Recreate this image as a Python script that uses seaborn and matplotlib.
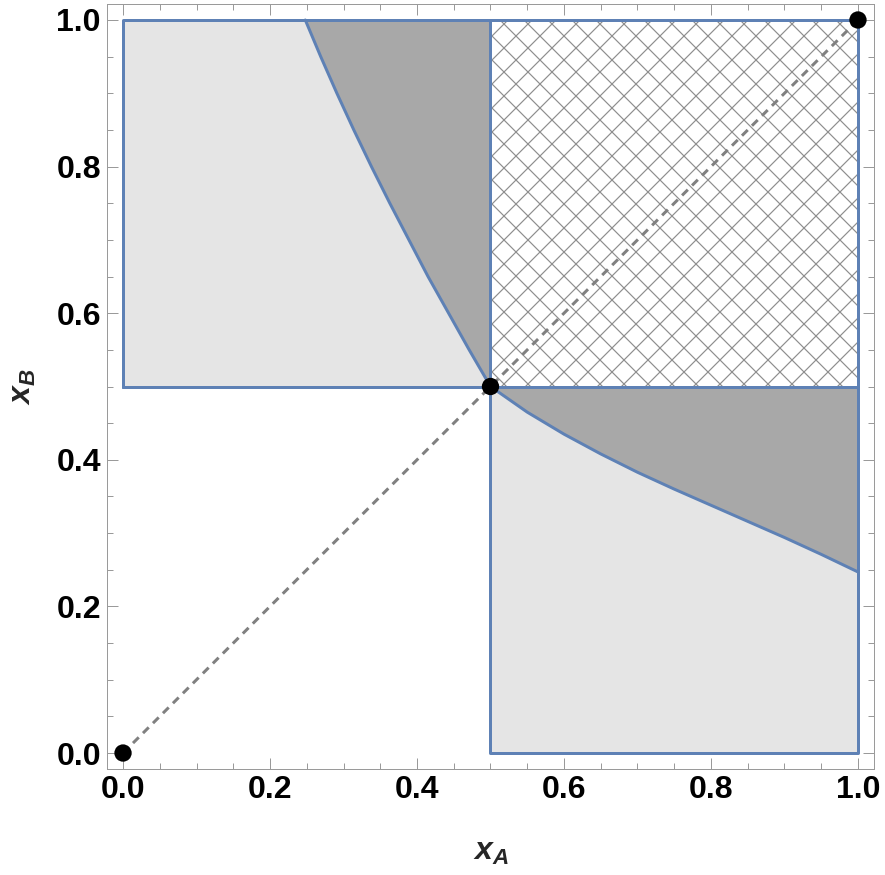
import numpy as np
import pandas as pd
import matplotlib.pyplot as plt
from matplotlib.patches import Rectangle
import seaborn as sns

# threshold splitting the unit square
half = 0.5
# boundary curves (xA, xB)
upper_xA = [0.248, 0.269, 0.291, 0.314, 0.338, 0.363, 0.389, 0.415, 0.443, 0.471, 0.500]
upper_xB = [1.000, 0.950, 0.900, 0.850, 0.800, 0.750, 0.700, 0.650, 0.600, 0.550, 0.500]
lower_xA = [0.500, 0.550, 0.600, 0.650, 0.700, 0.750, 0.800, 0.850, 0.900, 0.950, 1.000]
lower_xB = [0.500, 0.465, 0.435, 0.408, 0.383, 0.360, 0.338, 0.316, 0.294, 0.271, 0.247]
# equilibrium points on the diagonal
eq_points = [0.0, 0.5, 1.0]
ticks = [0.0, 0.2, 0.4, 0.6, 0.8, 1.0]
tick_labels = ["0.0", "0.2", "0.4", "0.6", "0.8", "1.0"]

blue = "#5E81B5"
light = "#E5E5E5"
dark = "#A8A8A8"
frame = "#9A9A9A"

sns.set_style("ticks")
plt.rcParams['font.family'] = ['Liberation Sans', 'DejaVu Sans']
plt.rcParams['font.weight'] = 'bold'
plt.rcParams['mathtext.fontset'] = 'custom'
plt.rcParams['mathtext.it'] = 'Liberation Sans:italic:bold'
plt.rcParams['mathtext.rm'] = 'Liberation Sans:bold'
plt.rcParams['hatch.linewidth'] = 1.2

fig = plt.figure(figsize=(885 / 72, 875 / 72), dpi=72)
ax = fig.add_axes([107 / 885, 106 / 875, 767 / 885, 765 / 875])

# light regions
ax.fill_between([0, half], half, 1, color=light, lw=0, zorder=1)
ax.fill_between([half, 1], 0, half, color=light, lw=0, zorder=1)

# dark regions above the boundary curves
ax.fill_between(upper_xA, upper_xB, 1, color=dark, lw=0, zorder=2)
ax.fill_between(lower_xA, lower_xB, half, color=dark, lw=0, zorder=2)

# hatched square
ax.add_patch(Rectangle((half, half), 1 - half, 1 - half, facecolor="white",
                       edgecolor="#8E8E8E", lw=0, hatch="x", zorder=2))

# outlines
ax.plot([0, 0, half, half, 0], [half, 1, 1, half, half], color=blue, lw=3, zorder=4)
ax.plot([half, half, 1, 1, half], [half, 0, 0, half, half], color=blue, lw=3, zorder=4)
ax.plot([half, 1, 1], [1, 1, half], color=blue, lw=3, zorder=4)
curve = pd.DataFrame({"xA": upper_xA + lower_xA, "xB": upper_xB + lower_xB})
sns.lineplot(data=curve, x="xA", y="xB", sort=False, estimator=None, color=blue,
             lw=3, ax=ax, zorder=4)

# diagonal
diag = pd.DataFrame({"xA": [0, 1], "xB": [0, 1]})
sns.lineplot(data=diag, x="xA", y="xB", color="#808080", lw=3, ax=ax, zorder=5)
ax.lines[-1].set_dashes((2.7, 2))

# equilibrium points
pts = pd.DataFrame({"xA": eq_points, "xB": eq_points})
sns.scatterplot(data=pts, x="xA", y="xB", color="black", s=300, edgecolor="none",
                ax=ax, zorder=6, clip_on=False)

pad = 0.0218
ax.set_xlim(-pad, 1 + pad)
ax.set_ylim(-pad, 1 + pad)
ax.set_xticks(ticks)
ax.set_xticklabels(tick_labels)
ax.set_yticks(ticks)
ax.set_yticklabels(tick_labels)
ax.set_xticks(np.arange(0, 1.001, 0.05), minor=True)
ax.set_yticks(np.arange(0, 1.001, 0.05), minor=True)
ax.tick_params(which="both", direction="in", color=frame, width=1,
               top=True, right=True, labelsize=32, labelcolor="black")
ax.tick_params(which="major", length=11, pad=6)
ax.tick_params(which="minor", length=6)
for sp in ax.spines.values():
    sp.set_color(frame)
    sp.set_linewidth(1)

ax.set_xlabel(r"$x_A$", fontsize=32, labelpad=32)
ax.set_ylabel(r"$x_B$", fontsize=32, labelpad=18)

fig.savefig("out.png", dpi=72)
